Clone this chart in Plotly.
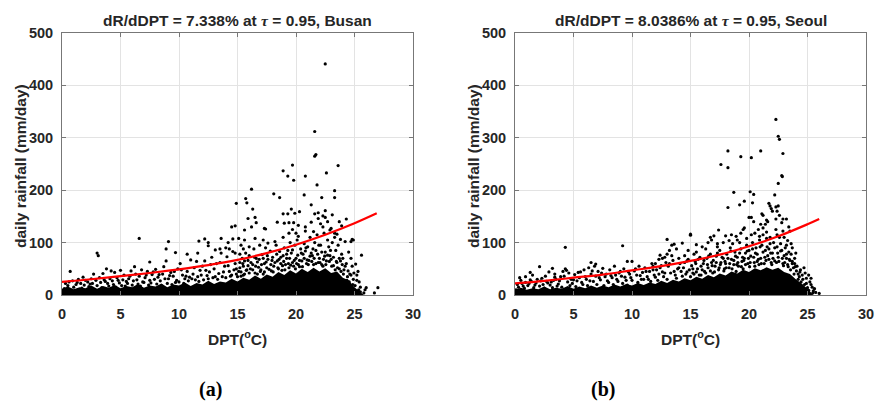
import plotly.graph_objects as go

# ---------------- data ----------------
# Panel (a) Busan : scattered daily values (DPT degC, rainfall mm/day)
POINTS_A = [
    # high outliers
    (22.5,441),(21.6,312),(21.6,265),(21.7,268),(19.7,248),(18.9,237),(19.3,227),(19.8,219),(20.8,227),
    (22.6,233),(23.6,247),(21.8,210),(23.3,199),(23.3,186),(22.2,186),(20.7,191),(18.1,193),(18.6,186),
    (16.2,202),(15.7,184),(14.9,175),(15.8,176),(21.3,172),(16.3,164),(19.6,164),(20.3,159),(19.9,156),
    (18.9,155),(19.3,155),(21.9,157),(22.5,161),(22.5,148),(23.7,140),(24.3,145),(23.1,153),(15.9,146),
    (16.5,148),(16.6,138),(17.3,127),(17.4,126),(18.4,139),(19.0,137),(19.4,138),(19.8,138),(20.2,133),
    (19.7,125),(20.0,118),(20.8,130),(21.3,139),(21.6,155),(21.9,146),(22.3,151),(22.7,140),(22.3,130),
    (23.0,127),(23.3,118),(23.9,132),(24.2,102),(24.7,102),(24.8,106),(15.6,124),(16.2,130),(16.5,108),
    (15.6,105),(14.5,130),(15.1,108),(17.2,105),(17.6,99),(18.2,102),(18.9,110),(19.4,118),(20.2,112),
    (20.8,122),(21.5,121),(22.1,136),(22.9,124),(23.5,116),(23.8,106),(24.9,105),(14.8,132),(6.6,108),
    (3.0,80),(3.1,75),(9.1,102),(8.9,88),(9.7,81),(11.7,103),(12.2,107),(12.5,100),(12.5,94),(13.6,108),
    (14.2,100),(14.6,107),(14.0,90),(14.3,88),(13.5,88),(13.1,86),(11.6,80),(10.7,78),(7.5,63),(15.3,95),
    (15.5,88),(16.0,92),(14.8,80),(15.2,78),
    # fringe above the dense core
    (0.3,22),(0.7,45),(0.5,18),(0.9,27),(1.2,20),(1.4,30),(1.8,34),(1.6,22),(1.9,19),
    (2.2,25),(2.5,31),(2.7,40),(2.4,21),(2.9,28),(3.3,24),(3.5,41),(3.8,50),(3.6,29),(3.9,22),
    (4.2,46),(4.5,43),(4.3,27),(4.7,33),(4.9,23),(5.0,47),(5.3,38),(5.5,26),(5.7,31),(5.9,46),
    (6.2,54),(6.4,29),(6.6,36),(6.8,48),(6.9,25),(7.1,33),(7.3,45),(7.5,28),(7.7,39),(7.9,30),
    (8.0,49),(8.2,34),(8.4,27),(8.7,54),(8.9,65),(8.6,40),(9.1,31),(9.3,43),(9.5,36),(9.8,28),(9.9,50),
    (10.1,60),(10.3,38),(10.5,31),(10.7,45),(10.9,34),(11.0,67),(11.2,40),(11.5,64),(11.4,29),(11.8,47),
    (11.6,35),(12.0,55),(12.2,65),(12.4,37),(12.6,44),(12.8,72),(12.9,33),(13.0,50),(13.2,60),(13.4,41),
    (13.6,80),(13.7,35),(13.9,55),(14.1,73),(14.3,45),(14.6,83),(14.5,38),(14.8,60),(14.9,50),
    (15.1,45),(15.2,62),(15.4,70),(15.5,55),(15.6,40),(15.7,80),(15.8,48),(15.9,66),(15.3,36),
    (16.0,75),(16.1,50),(16.3,58),(16.4,88),(16.5,42),(16.6,70),(16.8,53),(16.9,95),(16.7,63),
    (17.0,48),(17.1,77),(17.3,60),(17.4,90),(17.5,52),(17.6,68),(17.8,84),(17.9,46),(17.2,40),
    (18.0,72),(18.1,55),(18.3,95),(18.4,65),(18.5,50),(18.6,83),(18.7,60),(18.9,75),(18.8,47),
    (19.0,90),(19.1,58),(19.2,70),(19.4,52),(19.5,100),(19.6,80),(19.7,62),(19.9,95),(19.8,55),(19.3,85),
    (20.0,70),(20.1,105),(20.2,58),(20.4,88),(20.5,65),(20.6,78),(20.7,98),(20.9,60),(20.8,84),(20.3,54),
    (21.0,92),(21.1,66),(21.2,110),(21.4,75),(21.5,58),(21.6,100),(21.7,85),(21.9,62),(21.8,115),(21.3,80),
    (22.0,70),(22.1,95),(22.2,58),(22.4,118),(22.5,82),(22.6,65),(22.7,105),(22.9,75),(22.8,92),(22.3,55),
    (23.0,68),(23.1,100),(23.2,56),(23.4,85),(23.5,62),(23.6,95),(23.7,50),(23.9,78),(23.8,65),(23.3,110),
    (24.0,70),(24.1,48),(24.3,60),(24.5,82),(24.6,40),(24.8,55),(24.9,30),(24.4,35),(24.7,70),
    (25.1,59),(25.2,38),(25.4,25),(25.6,76),(25.5,15),(25.8,4),(26.0,14),(25.9,10),(26.7,4),(27.0,14),(25.3,45),
    # dense texture near the core
    (0.2,12),(0.6,25),(1.0,15),(1.3,24),(1.7,13),(2.0,28),(2.3,16),(2.6,22),(3.0,18),(3.2,33),(3.4,14),
    (3.7,26),(4.0,17),(4.1,31),(4.4,20),(4.6,15),(4.8,28),(5.1,18),(5.2,29),(5.4,17),(5.6,22),(5.8,36),
    (6.0,19),(6.1,27),(6.3,40),(6.5,21),(6.7,17),(7.0,24),(7.2,38),(7.4,19),(7.6,23),(7.8,44),(8.1,21),
    (8.3,39),(8.5,18),(8.8,31),(9.0,22),(9.2,37),(9.4,20),(9.6,45),(9.7,24),(10.0,25),(10.2,48),(10.4,22),
    (10.6,36),(10.8,27),(11.1,31),(11.3,52),(11.7,26),(11.9,38),(12.1,29),(12.3,47),(12.5,31),(12.7,58),
    (13.1,35),(13.3,30),(13.5,62),(13.8,44),(14.0,33),(14.2,56),(14.4,36),(14.7,48),(14.9,40),
    (15.0,35),(15.2,52),(15.3,44),(15.45,60),(15.5,38),(15.6,65),(15.75,47),(15.9,56),
    (16.0,42),(16.15,62),(16.3,48),(16.45,72),(16.55,55),(16.7,40),(16.85,68),(16.95,45),
    (17.05,58),(17.2,70),(17.3,44),(17.45,63),(17.55,75),(17.7,49),(17.85,58),(17.95,66),
    (18.05,44),(18.2,62),(18.35,78),(18.45,52),(18.55,68),(18.7,72),(18.85,56),(18.95,64),
    (19.05,48),(19.2,78),(19.35,60),(19.45,70),(19.55,57),(19.7,86),(19.85,66),(19.95,50),
    (20.05,60),(20.15,76),(20.3,66),(20.45,80),(20.55,54),(20.7,70),(20.85,90),(20.95,67),
    (21.05,58),(21.2,74),(21.35,64),(21.45,88),(21.55,70),(21.7,60),(21.85,78),(21.95,95),
    (22.05,62),(22.2,82),(22.35,68),(22.45,74),(22.55,58),(22.7,76),(22.85,64),(22.95,85),
    (23.05,55),(23.2,72),(23.35,48),(23.45,64),(23.55,52),(23.7,70),(23.85,45),(23.95,58),
    (24.05,40),(24.2,55),(24.35,28),(24.45,46),(24.55,25),(24.7,38),(24.85,20),(24.95,42),
    (25.05,18),(25.2,28),(25.35,10),(25.5,6),
]
# ragged upper edge of the solid black mass of points (a)
CORE_A_X = [0, 0.5, 1, 1.5, 2, 2.5, 3, 3.5, 4, 4.5, 5, 5.5, 6, 6.5, 7, 7.5, 8, 8.5, 9, 9.5, 10, 10.5,
            11, 11.5, 12, 12.5, 13, 13.5, 14, 14.5, 15, 15.5, 16, 16.5, 17, 17.5, 18, 18.5, 19, 19.5, 20,
            20.5, 21, 21.5, 22, 22.5, 23, 23.5, 24, 24.5, 25, 25.3, 25.6, 25.8]
CORE_A_Y = [12, 16, 11, 15, 13, 18, 12, 17, 14, 19, 13, 17, 15, 21, 14, 18, 16, 22, 15, 20, 18, 24,
            17, 23, 20, 27, 21, 26, 24, 31, 26, 33, 29, 37, 31, 39, 35, 44, 38, 47, 41, 50,
            44, 52, 45, 51, 42, 45, 33, 28, 15, 9, 3, 0]
# 95% quantile fit (a)
FIT_A_X = [0, 2.5, 5, 7.5, 10, 12.5, 15, 17.5, 20, 22.5, 25, 26.9]
FIT_A_Y = [25, 30, 36, 42, 49, 57, 67, 80, 96, 115, 137, 156]

# Panel (b) Seoul
POINTS_B = [
    (22.3,335),(22.5,303),(22.6,297),(22.9,270),(18.2,275),(19.3,264),(20.2,262),(21.0,275),(17.6,249),
    (18.2,243),(22.8,228),(22.85,226),(22.5,213),(18.7,196),(20.1,197),(20.4,192),(22.2,191),(19.6,179),
    (19.2,172),(18.2,167),(20.3,176),(21.7,175),(21.8,170),(21.9,165),(22.0,160),(22.3,168),(22.5,170),
    (22.4,160),(22.6,152),(22.3,145),(20.0,148),(20.2,148),(20.4,140),(21.1,155),(21.2,152),(21.6,140),
    (21.5,143),(21.0,135),(21.2,128),(20.8,125),(21.4,135),(22.9,145),(23.2,145),(22.8,138),(23.4,130),
    (23.5,122),(22.9,122),(22.4,115),(21.8,110),(15.0,116),(16.7,110),(17.0,113),(16.8,105),(17.3,98),
    (18.0,113),(17.4,124),(18.5,115),(18.9,112),(19.3,118),(19.5,125),(19.6,128),(4.3,91),(9.2,94),
    (9.6,64),(10.0,64),(13.0,106),(14.3,99),(13.4,95),(13.6,97),(15.0,114),(13.2,85),(13.0,78),(12.8,72),
    (12.4,76),(12.6,70),(12.3,68),(12.0,60),(11.8,55),(14.0,70),(14.5,75),(14.8,85),(15.3,78),(14.7,65),
    (13.8,88),(6.5,62),(6.9,59),(2.1,54),(3.2,51),(3.4,40),(1.3,43),(0.9,35),(16.0,92),(16.5,100),
    (15.5,96),(17.8,100),(18.3,104),(19.0,105),(19.8,108),(20.5,118),(20.9,112),(21.5,120),(23.0,110),
    (23.3,104),(23.6,98),(23.2,95),(23.7,90),(24.0,80),(23.9,70),(23.7,60),
    (0.2,20),(0.5,28),(0.7,17),(0.9,24),(0.4,33),(1.2,22),(1.5,38),(1.7,19),(1.9,30),(1.4,26),
    (2.2,27),(2.4,20),(2.6,36),(2.8,23),(2.9,44),(3.1,25),(3.5,30),(3.7,21),(3.9,35),(3.3,28),
    (4.1,45),(4.3,50),(4.5,25),(4.6,42),(4.8,30),(4.9,22),(4.4,47),(5.1,39),(5.3,27),(5.5,33),(5.7,24),
    (5.9,48),(5.6,44),(6.1,30),(6.3,52),(6.5,40),(6.7,26),(6.9,36),(6.8,55),(7.1,45),(7.3,29),(7.5,51),
    (7.7,35),(7.9,27),(7.4,42),(8.1,48),(8.3,33),(8.5,55),(8.7,30),(8.9,42),(8.6,38),(9.1,36),(9.3,50),
    (9.5,28),(9.7,44),(9.9,33),(10.2,46),(10.4,38),(10.6,55),(10.8,30),(10.9,43),(11.1,52),(11.3,35),
    (11.5,45),(11.7,60),(11.9,38),(11.4,30),(12.1,48),(12.3,40),(12.5,56),(12.7,35),(12.9,62),(12.6,44),
    (13.1,55),(13.3,42),(13.5,66),(13.7,38),(13.9,50),(13.4,75),(14.1,60),(14.2,45),(14.4,52),(14.6,40),
    (14.8,68),(14.9,48),(15.1,56),(15.2,42),(15.4,64),(15.6,50),(15.8,72),(15.9,38),(15.5,82),
    (16.1,60),(16.2,45),(16.4,70),(16.5,52),(16.7,78),(16.9,42),(16.8,62),(16.3,88),
    (17.1,55),(17.2,74),(17.4,48),(17.5,85),(17.6,62),(17.8,70),(17.9,50),(17.3,92),
    (18.0,60),(18.1,78),(18.3,52),(18.4,90),(18.5,68),(18.7,58),(18.8,82),(18.9,45),(18.6,98),
    (19.0,72),(19.1,55),(19.3,88),(19.4,64),(19.5,50),(19.7,80),(19.8,95),(19.9,60),(19.6,70),(19.2,100),
    (20.0,85),(20.1,62),(20.3,100),(20.4,72),(20.5,55),(20.6,90),(20.8,68),(20.9,105),(20.7,78),(20.2,115),
    (21.0,70),(21.1,95),(21.3,60),(21.4,85),(21.5,108),(21.6,75),(21.8,98),(21.9,62),(21.7,88),(21.2,115),
    (22.0,80),(22.1,100),(22.2,65),(22.4,92),(22.5,72),(22.6,110),(22.8,85),(22.9,60),(22.7,98),(22.3,125),
    (23.0,75),(23.1,90),(23.3,58),(23.4,82),(23.5,66),(23.6,78),(23.8,52),(23.9,60),(23.2,70),
    (24.1,55),(24.2,40),(24.4,48),(24.6,30),(24.7,52),(24.9,22),(24.3,35),(24.8,42),
    (25.1,38),(25.2,25),(25.4,15),(25.5,8),(25.3,32),(26.0,3),(25.7,5),
    # dense texture near the core
    (0.1,10),(0.3,15),(0.6,22),(0.8,13),(1.1,18),(1.3,29),(1.6,14),(1.8,23),(2.1,17),(2.3,32),(2.5,13),
    (2.7,26),(3.0,19),(3.2,14),(3.4,34),(3.6,17),(3.8,27),(4.0,15),(4.2,36),(4.7,18),(5.0,29),(5.2,16),
    (5.4,43),(5.8,20),(6.0,35),(6.2,18),(6.4,27),(6.6,46),(7.0,20),(7.2,33),(7.6,18),(7.8,40),(8.0,24),
    (8.2,37),(8.4,20),(8.8,26),(9.0,45),(9.2,22),(9.4,34),(9.6,19),(9.8,40),(10.0,28),(10.3,50),(10.5,24),
    (10.7,37),(11.0,30),(11.2,45),(11.6,26),(11.8,48),(12.0,34),(12.2,28),(12.4,52),(12.8,42),(13.0,30),
    (13.2,60),(13.6,45),(13.8,32),(14.0,52),(14.3,36),(14.5,62),(14.7,44),
    (15.0,35),(15.2,50),(15.3,40),(15.45,60),(15.5,44),(15.65,68),(15.75,38),(15.9,55),
    (16.0,48),(16.15,66),(16.3,42),(16.45,58),(16.55,74),(16.7,46),(16.85,56),(16.95,66),
    (17.05,44),(17.2,62),(17.3,80),(17.45,52),(17.55,58),(17.7,72),(17.85,46),(17.95,64),
    (18.05,52),(18.2,70),(18.35,60),(18.45,84),(18.55,50),(18.7,66),(18.85,74),(18.95,58),
    (19.05,62),(19.2,80),(19.35,54),(19.45,72),(19.55,66),(19.7,58),(19.85,84),(19.95,70),
    (20.05,54),(20.15,74),(20.3,88),(20.45,62),(20.55,80),(20.7,64),(20.85,58),(20.95,92),
    (21.05,60),(21.2,82),(21.35,72),(21.45,66),(21.55,92),(21.7,68),(21.85,80),(21.95,58),
    (22.05,70),(22.2,90),(22.35,62),(22.45,80),(22.55,64),(22.7,84),(22.85,70),(22.95,56),
    (23.05,62),(23.2,78),(23.35,54),(23.45,68),(23.55,48),(23.7,64),(23.85,40),(23.95,54),
    (24.05,46),(24.2,30),(24.35,44),(24.45,25),(24.55,38),(24.75,20),(24.9,32),(25.0,14),
    (25.1,9),(25.3,20),(25.45,4),(25.6,12),
]
CORE_B_X = [0, 0.5, 1, 1.5, 2, 2.5, 3, 3.5, 4, 4.5, 5, 5.5, 6, 6.5, 7, 7.5, 8, 8.5, 9, 9.5, 10, 10.5,
            11, 11.5, 12, 12.5, 13, 13.5, 14, 14.5, 15, 15.5, 16, 16.5, 17, 17.5, 18, 18.5, 19, 19.5, 20,
            20.5, 21, 21.5, 22, 22.5, 23, 23.5, 24, 24.5, 25, 25.3, 25.5]
CORE_B_Y = [10, 14, 10, 13, 11, 16, 11, 14, 12, 17, 12, 16, 13, 18, 14, 18, 15, 20, 16, 21, 18, 23,
            19, 24, 21, 27, 23, 29, 26, 32, 28, 35, 31, 38, 34, 41, 37, 45, 41, 48, 44, 51,
            47, 53, 48, 52, 44, 40, 30, 22, 12, 5, 0]
FIT_B_X = [0, 2.5, 5, 7.5, 10, 12.5, 15, 17.5, 20, 22.5, 25, 26.0]
FIT_B_Y = [22, 27, 33, 39, 47, 55, 65, 77, 93, 112, 135, 145]

TAU = "<span style=\"font-family:'Liberation Serif'\"><i>τ</i></span>"
TITLES = ["dR/dDPT = 7.338% at " + TAU + " = 0.95, Busan",
          "dR/dDPT = 8.0386% at " + TAU + " = 0.95, Seoul"]
PANEL_LABELS = ["(a)", "(b)"]
X_TITLE = "DPT(<sup>o</sup>C)"
Y_TITLE = "daily rainfall (mm/day)"
X_TICKS = [0, 5, 10, 15, 20, 25, 30]
Y_TICKS = [0, 100, 200, 300, 400, 500]

# ---------------- figure ----------------
W, H = 876, 401
fig = go.Figure()

panels = [
    (POINTS_A, CORE_A_X, CORE_A_Y, FIT_A_X, FIT_A_Y, "x", "y"),
    (POINTS_B, CORE_B_X, CORE_B_Y, FIT_B_X, FIT_B_Y, "x2", "y2"),
]
for pts, cx, cy, fx, fy, xa, ya in panels:
    fig.add_trace(go.Scatter(x=cx, y=cy, mode="lines", fill="tozeroy", fillcolor="black",
                             line=dict(width=0, color="black"), xaxis=xa, yaxis=ya,
                             hoverinfo="skip", showlegend=False))
    fig.add_trace(go.Scatter(x=[p[0] for p in pts], y=[p[1] for p in pts], mode="markers",
                             marker=dict(color="black", size=3.2, line=dict(width=0)),
                             xaxis=xa, yaxis=ya, showlegend=False))
    fig.add_trace(go.Scatter(x=fx, y=fy, mode="lines", line=dict(color="#ff0000", width=2.2, shape="spline"),
                             xaxis=xa, yaxis=ya, showlegend=False))

def px_x(p):
    return p / W

def px_y(p):
    return 1 - p / H

SANS = "Liberation Sans, Arial, sans-serif"
TXT = "#262626"
tickfont = dict(family=SANS, size=14.5, color=TXT, weight="bold")
axis_common = dict(showline=True, linecolor="#777777", linewidth=1, mirror="ticks",
                   ticks="inside", ticklen=4, tickcolor="#777777", showgrid=True,
                   gridcolor="#e3e3e3", gridwidth=1, zeroline=False, tickfont=tickfont,
                   automargin=False)

lefts = [62, 515]
panel_w = 351
top, bottom = 33, 295
layout_axes = {}
for i, L in enumerate(lefts):
    sx = "" if i == 0 else str(i + 1)
    layout_axes["xaxis" + sx] = dict(axis_common, domain=[px_x(L), px_x(L + panel_w)], range=[0, 30],
                                     tickvals=X_TICKS, anchor="y" + sx, ticklabelstandoff=6)
    layout_axes["yaxis" + sx] = dict(axis_common, domain=[px_y(bottom), px_y(top)], range=[0, 500],
                                     tickvals=Y_TICKS, anchor="x" + sx, ticklabelstandoff=5)

annotations = []
for i, L in enumerate(lefts):
    cxp = L + panel_w / 2
    annotations.append(dict(text="<b>" + TITLES[i] + "</b>", x=px_x(cxp), y=px_y(20), xref="paper", yref="paper",
                            showarrow=False, xanchor="center", yanchor="middle",
                            font=dict(family=SANS, size=15.5, color=TXT)))
    annotations.append(dict(text="<b>" + X_TITLE + "</b>", x=px_x(cxp), y=px_y(338), xref="paper", yref="paper",
                            showarrow=False, xanchor="center", yanchor="middle",
                            font=dict(family=SANS, size=15.5, color=TXT)))
    annotations.append(dict(text="<b>" + Y_TITLE + "</b>", x=px_x(L - 42), y=px_y(166), xref="paper",
                            yref="paper", showarrow=False, textangle=-90, xanchor="center", yanchor="middle",
                            font=dict(family=SANS, size=15.5, color=TXT)))
for lab, xc in zip(PANEL_LABELS, [210, 603]):
    annotations.append(dict(text="<b>" + lab + "</b>", x=px_x(xc), y=px_y(389), xref="paper", yref="paper",
                            showarrow=False, xanchor="center", yanchor="middle",
                            font=dict(family="Liberation Serif, Times New Roman, serif", size=20, color="black")))

fig.update_layout(template="none", width=W, height=H,
                  margin=dict(l=0, r=0, t=0, b=0, pad=0, autoexpand=False),
                  paper_bgcolor="white", plot_bgcolor="white", showlegend=False,
                  annotations=annotations, **layout_axes)

fig.write_html("out.html", config={"displayModeBar": False},
               post_script="document.body.style.margin='0px';document.body.style.overflow='hidden';")
